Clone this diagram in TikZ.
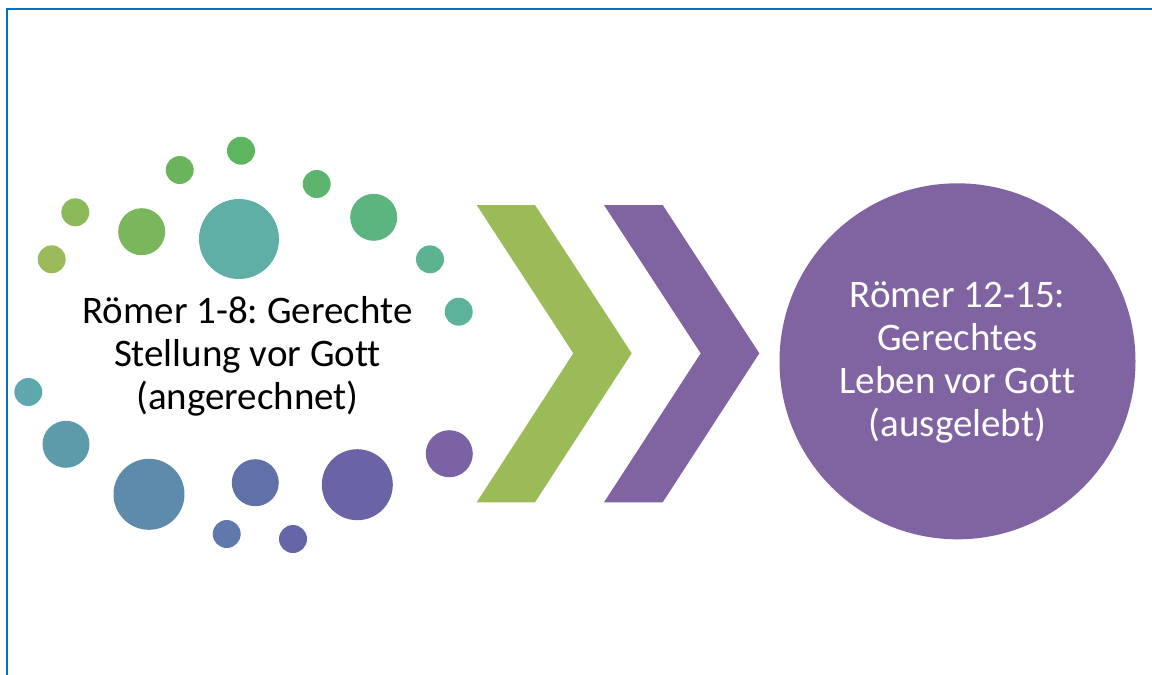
\documentclass[tikz,border=0pt]{standalone}
\usepackage{fontspec}
\setmainfont{Carlito}[Ligatures=NoCommon]
\frenchspacing
\definecolor{frameblue}{HTML}{0070C0}
\definecolor{chgreen}{HTML}{9BBB59}
\definecolor{chpurple}{HTML}{8064A2}
\definecolor{d01}{HTML}{5DB55E}
\definecolor{d02}{HTML}{6AB55B}
\definecolor{d03}{HTML}{5CB46E}
\definecolor{d04}{HTML}{8CBA5A}
\definecolor{d05}{HTML}{7AB75C}
\definecolor{d06}{HTML}{5FAFA7}
\definecolor{d07}{HTML}{5CB57E}
\definecolor{d08}{HTML}{9BBA5A}
\definecolor{d09}{HTML}{5DB28F}
\definecolor{d10}{HTML}{5DB29C}
\definecolor{d11}{HTML}{5EA8AD}
\definecolor{d12}{HTML}{5D9BAB}
\definecolor{d13}{HTML}{5E8AAB}
\definecolor{d14}{HTML}{6070A8}
\definecolor{d15}{HTML}{6A63A6}
\definecolor{d16}{HTML}{7A62A4}
\definecolor{d17}{HTML}{6079AA}
\definecolor{d18}{HTML}{6565A8}
\begin{document}
\begin{tikzpicture}[x=1pt,y=-1pt,
  dot/.style={circle,inner sep=0pt,minimum size=#1},
  bigtext/.style={align=center,font=\fontsize{39}{43}\selectfont,inner sep=0pt}]
\useasboundingbox (0,0) rectangle (1152,675);
% frame
\coordinate (fbl) at (7,675);
\coordinate (ftl) at (7,9);
\coordinate (ftr) at (1152,9);
\draw[frameblue,line width=2pt] (fbl) -- (ftl) -- (ftr);
% dots
\node[dot=28pt,fill=d01] (c01) at (241,150.7) {};
\node[dot=28pt,fill=d02] (c02) at (179.7,170) {};
\node[dot=28pt,fill=d03] (c03) at (316.7,184) {};
\node[dot=28pt,fill=d04] (c04) at (75.3,212.3) {};
\node[dot=47pt,fill=d05] (c05) at (141.7,231.7) {};
\node[dot=80pt,fill=d06] (c06) at (239,239) {};
\node[dot=47pt,fill=d07] (c07) at (373.7,217.3) {};
\node[dot=28pt,fill=d08] (c08) at (51.7,259.3) {};
\node[dot=28pt,fill=d09] (c09) at (430,259.3) {};
\node[dot=28pt,fill=d10] (c10) at (458.7,311.7) {};
\node[dot=28pt,fill=d11] (c11) at (28.3,392) {};
\node[dot=47pt,fill=d12] (c12) at (66,444.3) {};
\node[dot=71pt,fill=d13] (c13) at (149,494.3) {};
\node[dot=47pt,fill=d14] (c14) at (255.3,482.7) {};
\node[dot=71pt,fill=d15] (c15) at (357.3,484.7) {};
\node[dot=47pt,fill=d16] (c16) at (449.3,453.7) {};
\node[dot=28pt,fill=d17] (c17) at (226.7,534) {};
\node[dot=28pt,fill=d18] (c18) at (293,539) {};
% left text
\node[bigtext] (lefttext) at (247.5,356) {Römer 1-8: Gerechte\\Stellung vor Gott\\(angerechnet)};
% chevrons
\fill[chgreen] (476.7,205) -- (535,205) -- (631.7,353.3) -- (535,502.3) -- (476.7,502.3) -- (573.3,353.3) -- cycle;
\fill[chpurple] (604,205) -- (662.7,205) -- (759.3,353.3) -- (662.7,502.3) -- (604,502.3) -- (700.7,353.3) -- cycle;
% goal circle
\node[circle,fill=chpurple,minimum size=356pt,inner sep=0pt] (goal) at (957.5,361.3) {};
\node[bigtext,text=white] (goaltext) at (957.5,362) {Römer 12-15:\\Gerechtes\\Leben vor Gott\\(ausgelebt)};
\end{tikzpicture}
\end{document}
